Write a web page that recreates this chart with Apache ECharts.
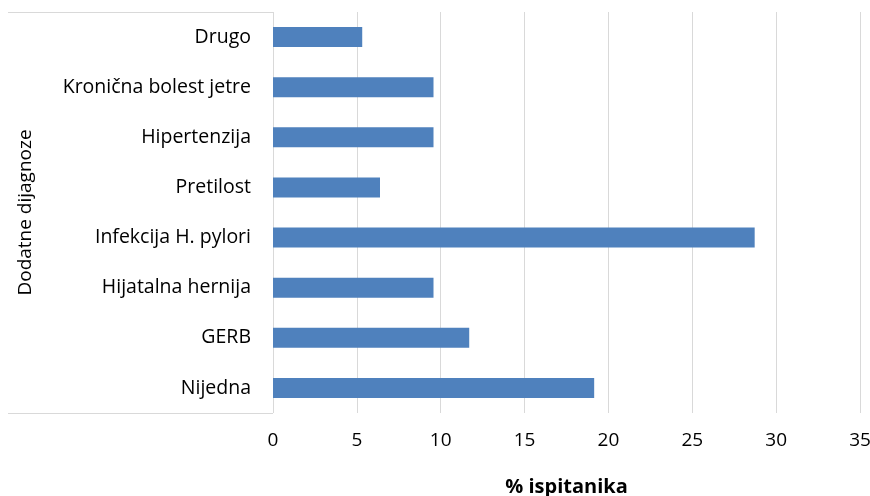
<!DOCTYPE html>
<html>
<head>
<meta charset="utf-8">
<script src="https://cdn.jsdelivr.net/npm/echarts@6/dist/echarts.min.js"></script>
<style>html,body{margin:0;padding:0;background:#fff}#c{width:870px;height:496px}</style>
</head>
<body>
<div id="c"></div>
<script>
// Categories listed bottom-to-top (as ECharts draws a category y-axis)
var categories = ['Nijedna', 'GERB', 'Hijatalna hernija', 'Infekcija H. pylori', 'Pretilost', 'Hipertenzija', 'Kronična bolest jetre', 'Drugo'];
var values = [19.15, 11.70, 9.57, 28.72, 6.38, 9.57, 9.57, 5.32];
var xTicks = [0, 5, 10, 15, 20, 25, 30, 35];
var xTitle = '% ispitanika';
var yTitle = 'Dodatne dijagnoze';

var FONT = 'Open Sans';
var chart = echarts.init(document.getElementById('c'), null, {renderer: 'canvas'});
chart.setOption({
  animation: false,
  backgroundColor: '#fff',
  textStyle: {fontFamily: FONT},
  grid: {left: 273, right: 10, top: 12, bottom: 83, containLabel: false, outerBoundsMode: 'none'},
  xAxis: {
    type: 'value',
    min: xTicks[0], max: xTicks[xTicks.length - 1], interval: 5,
    axisLine: {show: false},
    axisTick: {show: false},
    axisLabel: {color: '#000', fontSize: 19, margin: 18, fontFamily: FONT},
    splitLine: {show: true, lineStyle: {color: '#d9d9d9', width: 1}},
    name: xTitle, nameLocation: 'middle', nameGap: 64,
    nameTextStyle: {color: '#000', fontSize: 20, fontWeight: 'bold', fontFamily: FONT}
  },
  yAxis: {
    type: 'category',
    data: categories,
    axisLine: {show: false},
    axisTick: {show: false},
    axisLabel: {color: '#000', fontSize: 19.5, margin: 22, fontFamily: FONT},
    name: yTitle, nameLocation: 'middle', nameGap: 238, nameRotate: 90,
    nameTextStyle: {color: '#000', fontSize: 19, fontFamily: FONT}
  },
  series: [{
    type: 'bar',
    data: values,
    barWidth: '40%',
    itemStyle: {color: '#4f81bd'}
  }],
  graphic: [
    {type: 'line', shape: {x1: 8, y1: 12.5, x2: 273, y2: 12.5}, style: {stroke: '#d9d9d9', lineWidth: 1}},
    {type: 'line', shape: {x1: 8, y1: 413.5, x2: 273, y2: 413.5}, style: {stroke: '#d9d9d9', lineWidth: 1}}
  ]
});
</script>
</body>
</html>
